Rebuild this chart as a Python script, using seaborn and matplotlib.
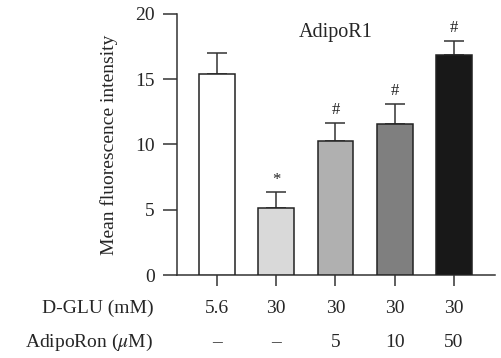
import matplotlib
matplotlib.use("Agg")
import matplotlib.pyplot as plt
import seaborn as sns
import pandas as pd
from matplotlib.transforms import blended_transform_factory

groups = ["G1", "G2", "G3", "G4", "G5"]
means = [15.4, 5.15, 10.3, 11.55, 16.85]
errors = [1.6, 1.2, 1.35, 1.55, 1.1]
marks = ["", "*", "#", "#", "#"]
dglu = ["5.6", "30", "30", "30", "30"]
adiporon = ["\u2013", "\u2013", "5", "10", "50"]
colors = ["#ffffff", "#d9d9d9", "#b0b0b0", "#7f7f7f", "#181818"]

sns.set_style("ticks")
plt.rcParams["font.family"] = ["Liberation Serif", "DejaVu Serif"]
plt.rcParams["mathtext.fontset"] = "stix"

FS = 14

fig = plt.figure(figsize=(5.02, 3.58), dpi=100)
ax = fig.add_axes([0.3526, 0.2318, 0.6334, 0.7292])

df = pd.DataFrame({"group": groups, "value": means})
sns.barplot(data=df, x="group", y="value", hue="group", palette=colors,
            legend=False, width=0.6, edgecolor="#222222", linewidth=1.1,
            ax=ax, zorder=3)
xs = list(range(len(groups)))
ax.errorbar(xs, means, yerr=[[0] * len(groups), errors], fmt="none",
            ecolor="#333333", elinewidth=1.1, capsize=7.5, capthick=1.1, zorder=2)

for x, m, e, s in zip(xs, means, errors, marks):
    if s:
        ax.text(x, m + e + 0.35, s, ha="center", va="bottom", fontsize=12, color="#222222")

ax.text(2.0, 18.55, "AdipoR1", ha="center", va="center", fontsize=14.5)

ax.set_xlim(-0.67, 4.69)
ax.set_ylim(0, 20)
ax.set_yticks([0, 5, 10, 15, 20])
ax.set_xticks(xs)
ax.set_xticklabels([""] * len(xs))
ax.tick_params(axis="y", length=10, width=1.1, labelsize=FS, color="#333333", pad=6)
ax.tick_params(axis="x", length=8, width=1.1, color="#333333")
ax.set_xlabel("")
ax.set_ylabel("Mean fluorescence intensity", fontsize=FS, labelpad=12)
for sp in ["top", "right"]:
    ax.spines[sp].set_visible(False)
for sp in ["left", "bottom"]:
    ax.spines[sp].set_color("#333333")
    ax.spines[sp].set_linewidth(1.1)

tr = blended_transform_factory(ax.transData, ax.transAxes)
row1 = -0.127
row2 = -0.258
for x, a, b in zip(xs, dglu, adiporon):
    ax.text(x, row1, a, transform=tr, ha="center", va="center", fontsize=FS)
    ax.text(x, row2, b, transform=tr, ha="center", va="center", fontsize=FS)
ax.text(-0.075, row1, "D-GLU (mM)", transform=ax.transAxes, ha="right", va="center", fontsize=FS)
ax.text(-0.075, row2, "AdipoRon ($\\mathit{\\mu}$M)", transform=ax.transAxes, ha="right", va="center", fontsize=FS)

fig.savefig("out.png", dpi=100)
